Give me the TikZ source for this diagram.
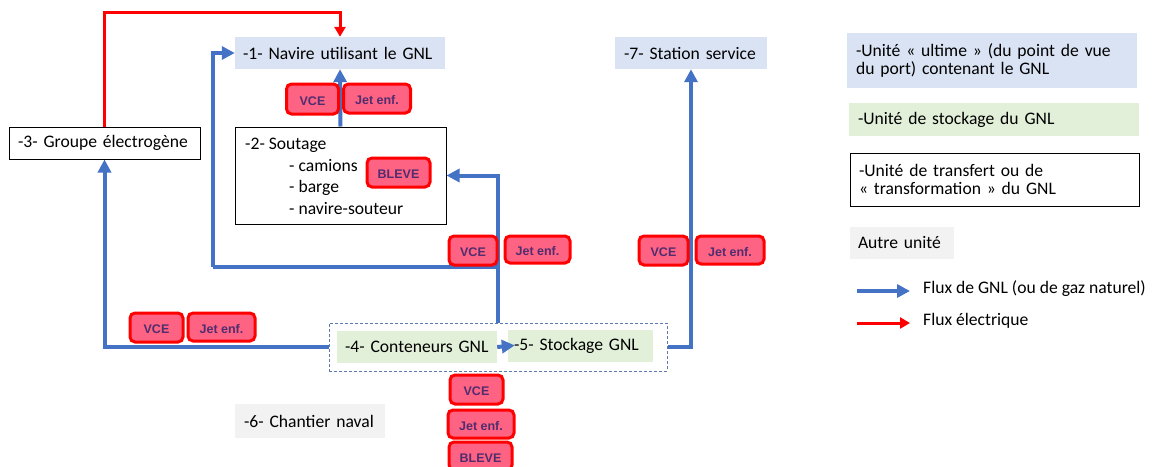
\documentclass[tikz,border=0pt]{standalone}
\usepackage{fontspec}
\setmainfont{Carlito}
\newfontfamily\badgefont{Liberation Sans}
\usetikzlibrary{arrows.meta}

\definecolor{ublue}{HTML}{DAE3F3}
\definecolor{ugreen}{HTML}{E2F0D9}
\definecolor{ugray}{HTML}{F2F2F2}
\definecolor{flowblue}{HTML}{4472C4}
\definecolor{flowred}{HTML}{FF0000}
\definecolor{badgefill}{RGB}{255,99,132}
\definecolor{badgetext}{RGB}{80,45,110}
\definecolor{dashcol}{RGB}{95,120,175}

\tikzset{
  unit/.style={inner xsep=9pt, inner ysep=0pt, align=left,
    font=\fontsize{17.6}{18.5}\selectfont, text=black},
  ultimate/.style={unit, fill=ublue},
  storage/.style={unit, fill=ugreen},
  transfer/.style={unit, draw=black, line width=1pt},
  other/.style={unit, fill=ugray},
  txt/.style={inner sep=0pt, font=\fontsize{17.6}{18.5}\selectfont},
  badge/.style={draw=flowred, line width=3pt, fill=badgefill, rounded corners=5pt,
    inner sep=0pt, text height=12.5pt, text depth=0pt, text=badgetext,
    font=\badgefont\bfseries\fontsize{12.5}{14}\selectfont},
  gnl/.style={draw=flowblue, line width=4pt, -{Triangle[length=13pt,width=13pt]}},
  gnlplain/.style={draw=flowblue, line width=4pt},
  elec/.style={draw=flowred, line width=3pt, -{Triangle[length=10pt,width=11pt]}},
  groupbox/.style={draw=dashcol, line width=1pt, dash pattern=on 3pt off 2pt}
}

\begin{document}
\begin{tikzpicture}[x=1pt, y=-1pt]
\useasboundingbox (0,0) rectangle (1154,466);

% --- units ---
\node[ultimate, inner xsep=8pt, text width=194pt, minimum height=32pt] (n1) at (340,53) {-1- Navire utilisant le GNL};
\node[draw=black, line width=1pt, minimum width=211pt, minimum height=97pt, inner sep=0pt] (n2) at (340.5,175.5) {};
\node[txt, anchor=base west] (n2a) at (245,149) {-2- Soutage};
\node[txt, anchor=base west] (n2b) at (289,171) {- camions};
\node[txt, anchor=base west] (n2c) at (289,192) {- barge};
\node[txt, anchor=base west] (n2d) at (289,214) {- navire-souteur};
\node[transfer, text width=173pt, minimum height=32pt] (n3) at (104.5,143) {-3- Groupe électrogène};
\node[groupbox, minimum width=338pt, minimum height=48pt, inner sep=0pt] (grp) at (498,347) {};
\node[storage, inner xsep=8pt, text width=144pt, minimum height=32pt] (n4) at (417,347) {-4- Conteneurs GNL};
\node[storage, inner xsep=6pt, text width=133pt, minimum height=32pt] (n5) at (580.5,346) {-5- Stockage GNL};
\node[other, text width=132pt, minimum height=34pt] (n6) at (310,421) {-6- Chantier naval};
\node[ultimate, text width=134pt, minimum height=32pt] (n7) at (691,53) {-7- Station service};

% --- flows ---
\draw[elec] (n3.north) -- ++(0,-114) -| (n1.north);
\draw[gnl] (n2.north) -- (n1.south);
\draw[gnl] (grp.north) |- (n2.east);
\coordinate (j1) at (498,267);
\coordinate (j2) at (213,267);
\draw[gnlplain] (grp.north) -- (j1) -- (j2);
\draw[gnl] (j2) |- (n1.west);
\draw[gnl] (grp.west) -| (n3.south);
\draw[gnl] (grp.east) -| (n7.south);
\draw[gnl, shorten >=-7pt] (n4.east) -- (n5.west);

% --- hazards ---
\node[badge, minimum width=52pt, minimum height=30pt] (b1) at (312.5,99) {VCE};
\node[badge, minimum width=67pt, minimum height=29pt] (b2) at (377,98.5) {Jet enf.};
\node[badge, minimum width=63pt, minimum height=29pt] (b3) at (398.5,172.5) {BLEVE};
\node[badge, minimum width=48pt, minimum height=29pt] (b4) at (473,250.5) {VCE};
\node[badge, minimum width=65pt, minimum height=27pt] (b5) at (537.5,249.5) {Jet enf.};
\node[badge, minimum width=49pt, minimum height=29pt] (b6) at (663.5,250.5) {VCE};
\node[badge, minimum width=68pt, minimum height=28pt] (b7) at (730,250) {Jet enf.};
\node[badge, minimum width=53pt, minimum height=29pt] (b8) at (156.5,327.5) {VCE};
\node[badge, minimum width=67pt, minimum height=28pt] (b9) at (221.5,327) {Jet enf.};
\node[badge, minimum width=53pt, minimum height=29pt] (b10) at (476.5,389.5) {VCE};
\node[badge, minimum width=66pt, minimum height=28pt] (b11) at (481,424) {Jet enf.};
\node[badge, minimum width=63pt, minimum height=28pt] (b12) at (480.5,456) {BLEVE};

% --- legend ---
\node[ultimate, text width=272pt, minimum height=55pt] (l1) at (992,60.5) {-Unité « ultime » (du point de vue\\du port) contenant le GNL};
\node[storage, text width=272pt, minimum height=33pt] (l2) at (994,119.5) {-Unité de stockage du GNL};
\node[transfer, text width=271pt, minimum height=53pt] (l3) at (994.5,179.5) {-Unité de transfert ou de\\« transformation » du GNL};
\node[other, inner xsep=8pt, text width=88pt, minimum height=32pt] (l4) at (902,243) {Autre unité};
\coordinate (la1) at (857,291);
\coordinate (la2) at (910,291);
\draw[gnl] (la1) -- (la2);
\node[txt, anchor=west] (lt1) at (923,289) {Flux de GNL (ou de gaz naturel)};
\coordinate (lb1) at (857,323);
\coordinate (lb2) at (910,323);
\draw[elec] (lb1) -- (lb2);
\node[txt, anchor=west] (lt2) at (923,321) {Flux électrique};
\end{tikzpicture}
\end{document}
